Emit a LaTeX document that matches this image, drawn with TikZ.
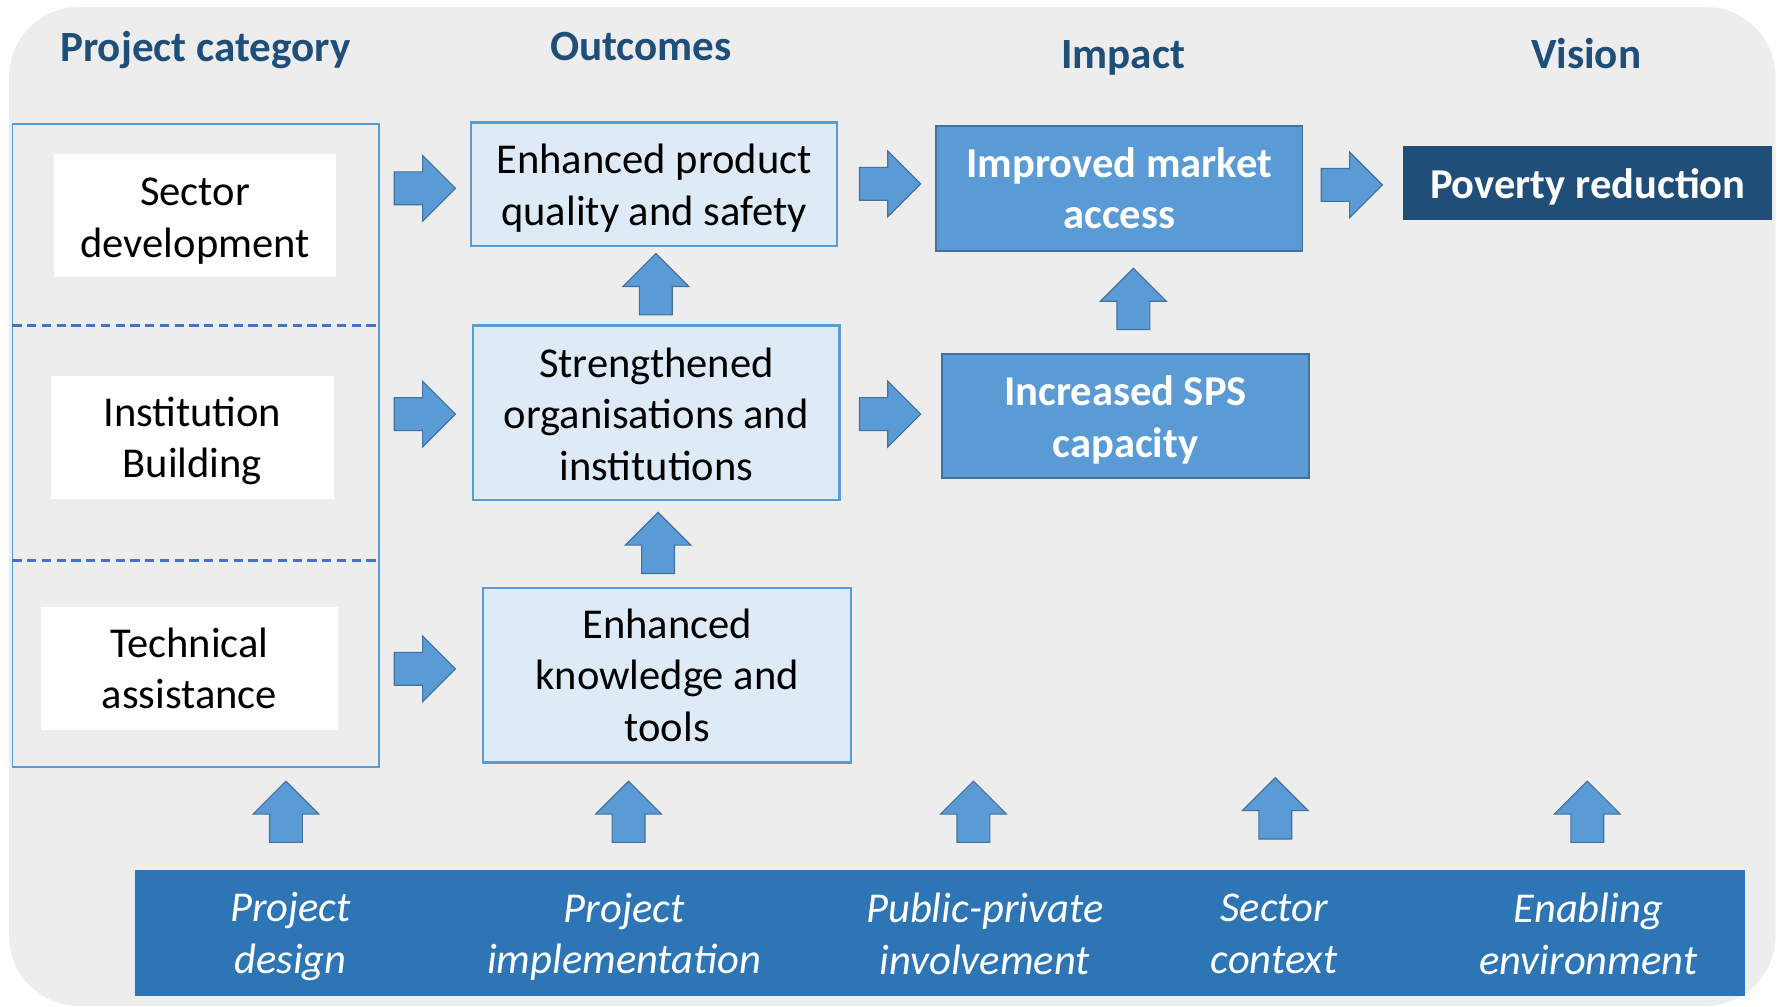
\documentclass[tikz,border=0pt]{standalone}
\usepackage{fontspec}
\setmainfont{Carlito}
\usetikzlibrary{shapes.arrows}
\definecolor{bggray}{HTML}{EDEDED}
\definecolor{hdrblue}{HTML}{1F4E79}
\definecolor{lblue}{HTML}{5B9BD5}
\definecolor{dblue}{HTML}{41719C}
\definecolor{dashblue}{HTML}{4472C4}
\definecolor{paleblue}{HTML}{DEEBF7}
\definecolor{bandblue}{HTML}{2E75B6}
\newcommand\lw[1][34pt]{\rule{0pt}{#1}}
\begin{document}
\begin{tikzpicture}[x=1pt,y=-1pt,
  every node/.style={font=\fontsize{37.5}{45.5}\selectfont, inner sep=0pt, align=center},
  hdr/.style={text=hdrblue, font=\fontsize{38}{46}\selectfont\bfseries},
  catbox/.style={fill=white},
  outbox/.style={fill=paleblue, draw=lblue, line width=2pt},
  impbox/.style={fill=lblue, draw=dblue, line width=1.5pt, text=white, font=\fontsize{37.5}{45.5}\selectfont\bfseries},
  visbox/.style={fill=hdrblue, text=white, font=\fontsize{37.5}{45.5}\selectfont\bfseries},
  bandlbl/.style={text=white, font=\fontsize{37.5}{45.5}\selectfont\itshape},
  blockarrow/.style={single arrow, draw=dblue, fill=lblue, line width=1pt, inner sep=14pt,
    minimum height=54pt, single arrow head extend=14.5pt, anchor=tail},
  uparrow/.style={blockarrow, shape border rotate=90}
]
\useasboundingbox (0,0) rectangle (1568,886.7);
% background
\fill[bggray, rounded corners=62pt] (8,6) rectangle (1565,886.7);

% headers
\node[hdr] (hpc) at (181,42) {\lw[31pt]Project category};
\node[hdr] (hoc) at (565,41) {Outcomes};
\node[hdr] (him) at (990,47) {\lw[32pt]Impact};
\node[hdr] (hvi) at (1398,47) {Vision};

% left frame with dashed separators
\node[draw=lblue, line width=1.5pt, minimum width=323pt, minimum height=567pt] (frame) at (172.5,392.5) {};
\coordinate (d1a) at (11,287);
\coordinate (d1b) at (334,287);
\coordinate (d2a) at (11,494);
\coordinate (d2b) at (334,494);
\draw[dashblue, line width=2pt, dash pattern=on 8pt off 5pt] (d1a) -- (d1b);
\draw[dashblue, line width=2pt, dash pattern=on 8pt off 5pt] (d2a) -- (d2b);

% project categories
\node[catbox, minimum width=248pt, minimum height=108pt] (sd) at (172,190) {\lw Sector\\development};
\node[catbox, minimum width=249pt, minimum height=109pt] (ib) at (169.5,385.5) {\lw[32pt]Institution\\Building};
\node[catbox, minimum width=262pt, minimum height=108pt] (ta) at (167,589) {Technical\\assistance};

% outcomes
\node[outbox, minimum width=323pt, minimum height=109pt] (o1) at (576.5,162.5) {\lw[33pt]Enhanced product\\quality and safety};
\node[outbox, minimum width=323pt, minimum height=154pt] (o2) at (578.5,364) {\lw[28pt]Strengthened\\organisations and\\institutions};
\node[outbox, minimum width=324pt, minimum height=154pt] (o3) at (588,595) {Enhanced\\knowledge and\\tools};

% impact
\node[impbox, minimum width=323pt, minimum height=110pt] (i1) at (986.5,166) {Improved market\\access};
\node[impbox, minimum width=324pt, minimum height=109pt] (i2) at (992,366.5) {\lw[33pt]Increased SPS\\capacity};

% vision
\node[visbox, minimum width=325pt, minimum height=65pt] (v) at (1399.5,161.5) {\lw[33pt]Poverty reduction};

% right arrows (placed by their tail)
\node[blockarrow] (a1) at (347,166) {};
\node[blockarrow] (a2) at (347,365) {};
\node[blockarrow] (a3) at (347,589.5) {};
\node[blockarrow] (a4) at (757,162) {};
\node[blockarrow] (a5) at (757,365) {};
\node[blockarrow] (a6) at (1164,163) {};

% up arrows (placed by their tail)
\node[uparrow] (u1) at (578,278) {};
\node[uparrow] (u2) at (580,506) {};
\node[uparrow] (u3) at (999,291) {};
\node[uparrow] (b1) at (252,743) {};
\node[uparrow] (b2) at (554,743) {};
\node[uparrow] (b3) at (858,743) {};
\node[uparrow] (b4) at (1124,740) {};
\node[uparrow] (b5) at (1399,743) {};

% bottom band
\node[fill=bandblue, minimum width=1419pt, minimum height=111pt] (band) at (828.5,822.5) {};
\node[bandlbl] (l1) at (256,823) {\lw[31pt]Project\\design};
\node[bandlbl] (l2) at (550,823) {\lw[31pt]Project\\implementation};
\node[bandlbl] (l3) at (868,823) {Public-private\\involvement};
\node[bandlbl] (l4) at (1123,823) {Sector\\context};
\node[bandlbl] (l5) at (1400,823) {Enabling\\environment};
\end{tikzpicture}
\end{document}
